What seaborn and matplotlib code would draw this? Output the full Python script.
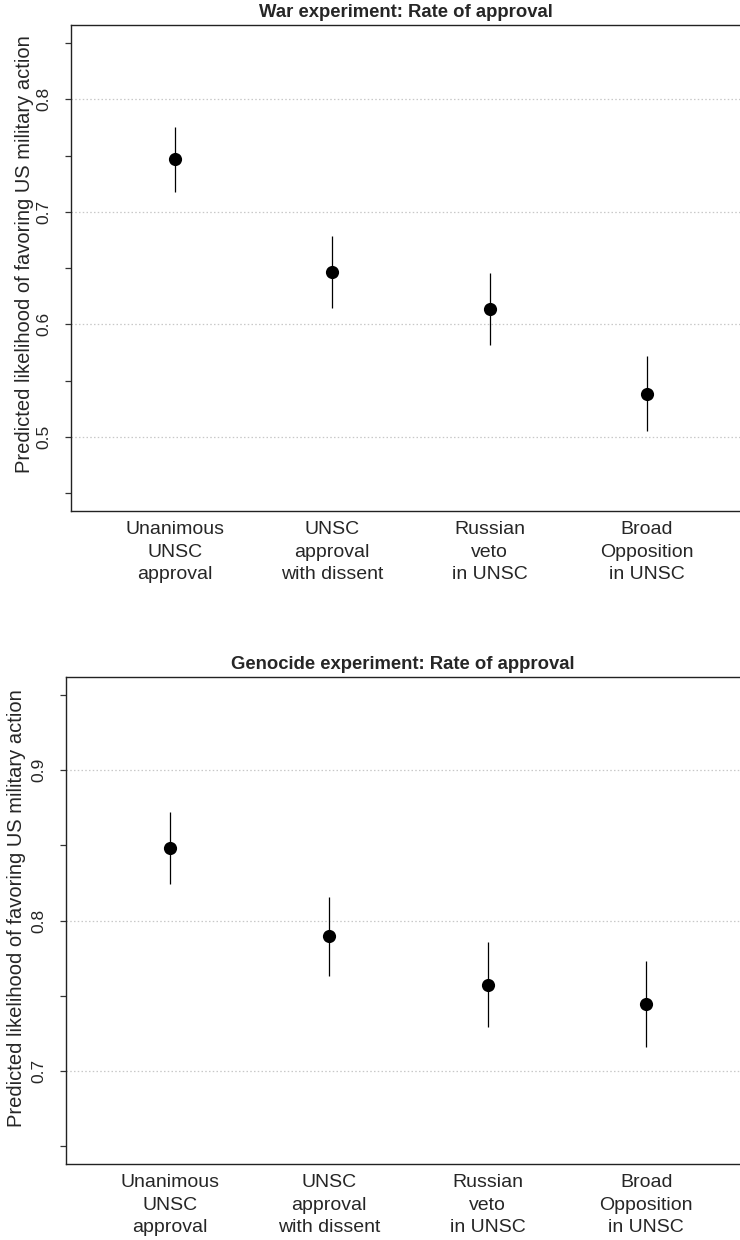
import matplotlib
matplotlib.use("Agg")
import matplotlib.pyplot as plt
import seaborn as sns
import pandas as pd
import numpy as np

categories = ["Unanimous\nUNSC\napproval", "UNSC\napproval\nwith dissent",
              "Russian\nveto\nin UNSC", "Broad\nOpposition\nin UNSC"]

war_est = [0.7468, 0.6464, 0.6138, 0.5384]
war_lo = [0.7178, 0.6143, 0.5814, 0.5053]
war_hi = [0.7753, 0.6786, 0.6460, 0.5715]

gen_est = [0.8485, 0.7898, 0.7574, 0.7448]
gen_lo = [0.8246, 0.7632, 0.7295, 0.7162]
gen_hi = [0.8721, 0.8159, 0.7857, 0.7734]

war_ticks = [0.45, 0.5, 0.55, 0.6, 0.65, 0.7, 0.75, 0.8, 0.85]
war_labels = ["", "0.5", "", "0.6", "", "0.7", "", "0.8", ""]
war_grid = [0.5, 0.6, 0.7, 0.8]
gen_ticks = [0.65, 0.7, 0.75, 0.8, 0.85, 0.9, 0.95]
gen_labels = ["", "0.7", "", "0.8", "", "0.9", ""]
gen_grid = [0.7, 0.8, 0.9]

war_title = "War experiment: Rate of approval"
gen_title = "Genocide experiment: Rate of approval"
ylabel = "Predicted likelihood of favoring US military action"

sns.set_style("white")
plt.rcParams['font.family'] = ['Liberation Sans', 'DejaVu Sans']

fig = plt.figure(figsize=(7.4, 12.4), dpi=100)
ax1 = fig.add_axes([71/740, 1-511/1240, 1-71/740, (511-25)/1240])
ax2 = fig.add_axes([65.7/740, 1-1164/1240, 1-65.7/740, (1164-677.3)/1240])


def panel(ax, est, lo, hi, ticks, labels, grid, ylim, title, label_xy):
    df = pd.DataFrame({"cat": pd.Categorical(categories, categories=categories),
                       "est": est, "lo": lo, "hi": hi})
    for g in grid:
        ax.axhline(g, color="#c8c8c8", lw=0.9, ls=(0, (1.2, 1.8)), zorder=0)
    ax.vlines(np.arange(len(categories)), df["lo"], df["hi"], color="black", lw=0.9, zorder=2)
    sns.scatterplot(data=df, x="cat", y="est", ax=ax, color="black", s=90,
                    edgecolor="black", linewidth=0, zorder=3)
    ax.set_xlim(-0.658, 3.59)
    ax.set_ylim(*ylim)
    ax.set_yticks(ticks)
    ax.set_yticklabels(labels, rotation=90, va="center", fontsize=12.5)
    ax.tick_params(axis="y", length=4, width=0.9, color="#333333", pad=10, left=True)
    ax.set_xticks(np.arange(len(categories)))
    ax.set_xticklabels(categories, fontsize=14, linespacing=1.45)
    ax.tick_params(axis="x", length=0, pad=7)
    ax.set_xlabel("")
    ax.set_ylabel(ylabel, fontsize=14.5)
    ax.yaxis.set_label_coords(*label_xy)
    ax.set_title(title, fontsize=13.3, fontweight="bold", pad=6)
    for s in ["left", "top", "bottom"]:
        ax.spines[s].set_visible(True)
        ax.spines[s].set_color("#222222")
        ax.spines[s].set_linewidth(1.0)
    ax.spines["right"].set_visible(False)


panel(ax1, war_est, war_lo, war_hi, war_ticks, war_labels, war_grid, (0.434, 0.866),
      war_title, (-0.055, 0.529))
panel(ax2, gen_est, gen_lo, gen_hi, gen_ticks, gen_labels, gen_grid, (0.6381, 0.9619),
      gen_title, (-0.059, 0.526))

fig.savefig("out.png", dpi=100)
